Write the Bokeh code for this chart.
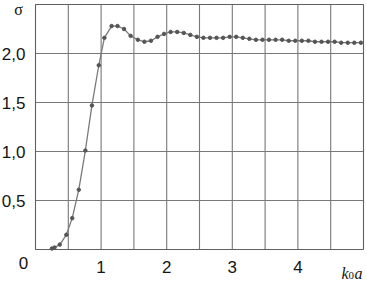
from bokeh.plotting import figure
from bokeh.models import Range1d
from bokeh.core.properties import value
from bokeh.embed import file_html
from bokeh.resources import INLINE

# data
k0a = [0.25, 0.29, 0.37, 0.47, 0.56, 0.66, 0.76, 0.86, 0.965, 1.05,
       1.16, 1.25, 1.35, 1.45, 1.56, 1.66, 1.76, 1.86, 1.96, 2.06,
       2.16, 2.26, 2.36, 2.46, 2.56, 2.66, 2.76, 2.86, 2.96, 3.06,
       3.16, 3.26, 3.36, 3.46, 3.56, 3.66, 3.76, 3.86, 3.96, 4.06,
       4.16, 4.26, 4.36, 4.46, 4.56, 4.66, 4.76, 4.86, 4.96]
sigma = [0.01, 0.02, 0.05, 0.15, 0.32, 0.61, 1.01, 1.47, 1.88, 2.16,
         2.28, 2.28, 2.25, 2.18, 2.14, 2.12, 2.13, 2.17, 2.20, 2.22,
         2.22, 2.21, 2.19, 2.17, 2.16, 2.16, 2.16, 2.16, 2.17, 2.17,
         2.16, 2.15, 2.14, 2.14, 2.14, 2.14, 2.14, 2.13, 2.13, 2.13,
         2.13, 2.12, 2.12, 2.12, 2.12, 2.11, 2.11, 2.11, 2.11]

x_min, x_max = 0.0, 5.0
y_min, y_max = 0.0, 2.5
x_ticks = [1, 2, 3, 4]
x_tick_labels = ["1", "2", "3", "4"]
y_ticks = [0.5, 1.0, 1.5, 2.0]
y_tick_labels = ["0,5", "1,0", "1,5", "2,0"]
grid_x = [0.5, 1.0, 1.5, 2.0, 2.5, 3.0, 3.5, 4.0, 4.5]
grid_y = [0.5, 1.0, 1.5, 2.0]

W, H = 366, 281
left, right, top, bottom = 35, 3, 4, 32
sx = (W - left - right) / (x_max - x_min)
sy = (H - top - bottom) / (y_max - y_min)

p = figure(width=W, height=H, output_backend="svg", toolbar_location=None,
           x_range=Range1d(x_min - left / sx, x_max + right / sx),
           y_range=Range1d(y_min - bottom / sy, y_max + top / sy),
           min_border=0, x_axis_location=None, y_axis_location=None)
p.background_fill_color = "white"
p.border_fill_color = "white"
p.outline_line_color = None
p.grid.visible = False

grid_col = "#787878"
# grid lines
p.segment(x0=grid_x, y0=[y_min] * len(grid_x), x1=grid_x, y1=[y_max] * len(grid_x),
          line_color=grid_col, line_width=1.1)
p.segment(x0=[x_min] * len(grid_y), y0=grid_y, x1=[x_max] * len(grid_y), y1=grid_y,
          line_color=grid_col, line_width=1.1)
# frame
p.quad(left=[x_min], right=[x_max], bottom=[y_min], top=[y_max],
       fill_color=None, line_color="#606060", line_width=1.1)

# data
p.line(k0a, sigma, line_color="#7a7a7a", line_width=1.3)
p.scatter(k0a, sigma, size=3.5, fill_color="#555555", line_color="#555555")

txt = "#151515"
sans = value("Liberation Sans")
serif = value("Liberation Serif")
# y tick labels
p.text(x=[x_min] * len(y_ticks), y=y_ticks, text=y_tick_labels, x_offset=-10,
       text_align="right", text_baseline="middle", text_font=sans,
       text_font_size="17px", text_color=txt)
# x tick labels
p.text(x=x_ticks, y=[y_min] * len(x_ticks), text=x_tick_labels, y_offset=11,
       text_align="center", text_baseline="top", text_font=sans,
       text_font_size="17px", text_color=txt)
# origin "0"
p.text(x=[x_min], y=[y_min], text=["0"], x_offset=-12, y_offset=13,
       text_align="center", text_baseline="middle", text_font=sans,
       text_font_size="17px", text_color=txt)
# sigma axis name
p.text(x=[x_min], y=[y_max], text=["σ"], x_offset=-17, y_offset=5,
       text_align="center", text_baseline="middle", text_font=serif,
       text_font_size="16px", text_color=txt)
# k0a axis name
p.text(x=[x_max], y=[y_min], text=["k"], x_offset=-22, y_offset=24,
       text_align="left", text_baseline="alphabetic", text_font=serif,
       text_font_style="italic", text_font_size="16px", text_color=txt)
p.text(x=[x_max], y=[y_min], text=["0"], x_offset=-15, y_offset=26,
       text_align="left", text_baseline="alphabetic", text_font=serif,
       text_font_size="11px", text_color=txt)
p.text(x=[x_max], y=[y_min], text=["a"], x_offset=-9, y_offset=24,
       text_align="left", text_baseline="alphabetic", text_font=serif,
       text_font_style="italic", text_font_size="16px", text_color=txt)

open("out.html", "w").write(file_html(p, INLINE))
